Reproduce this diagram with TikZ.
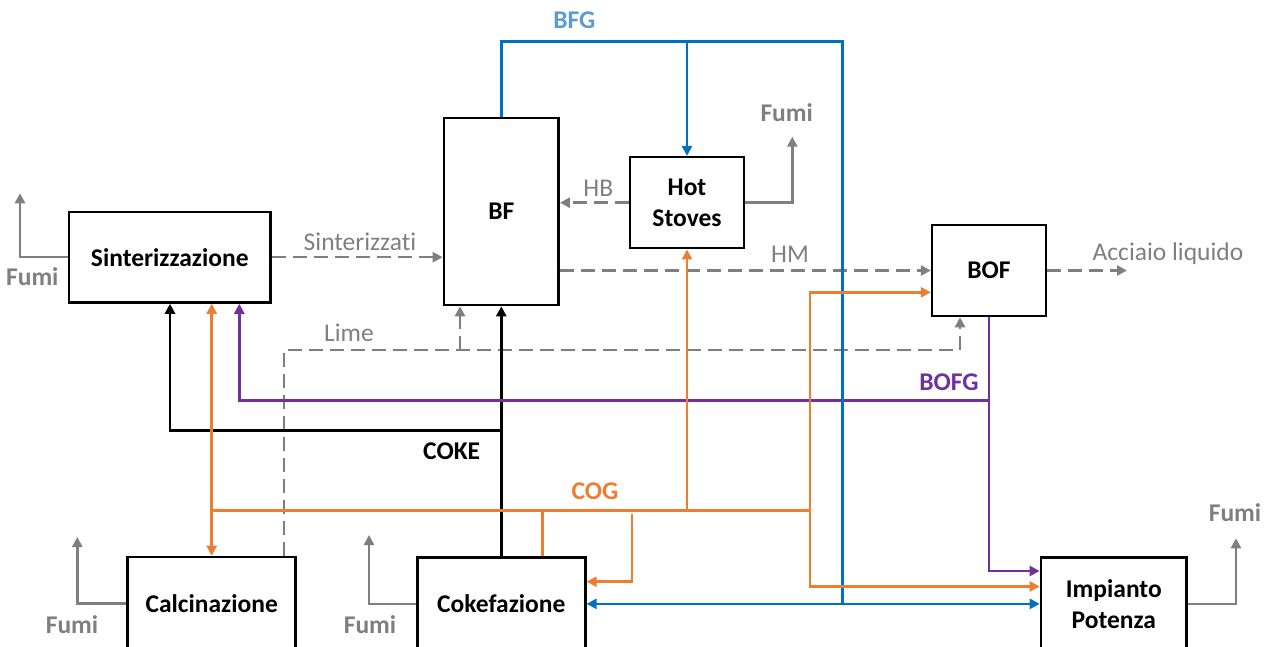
\documentclass[tikz,border=0pt]{standalone}
\usepackage{fontspec}
\setmainfont[Ligatures=NoCommon]{Carlito}
\usetikzlibrary{arrows.meta}
\definecolor{cgray}{HTML}{7F7F7F}
\definecolor{corange}{HTML}{ED7D31}
\definecolor{cblue}{HTML}{0070C0}
\definecolor{clblue}{HTML}{5B9BD5}
\definecolor{cpurple}{HTML}{7030A0}
\begin{document}
\begin{tikzpicture}[x=1pt,y=-1pt,
  box/.style={draw=black,line width=2.6pt,inner sep=0pt,align=center,
    font=\fontsize{25.5}{31}\selectfont\bfseries},
  lbl/.style={inner sep=0pt,text height=16.4pt,text depth=0pt,
    font=\fontsize{25.5}{31}\selectfont},
  blbl/.style={lbl,font=\fontsize{25.5}{31}\selectfont\bfseries},
  flow/.style={line width=2.5pt},
  arr/.style={-{Triangle[length=10pt,width=10pt]}},
  darr/.style={{Triangle[length=10pt,width=10pt]}-{Triangle[length=10pt,width=10pt]}},
  gline/.style={flow,draw=cgray},
  dline/.style={gline,dash pattern=on 14pt off 7pt},
  oline/.style={flow,draw=corange},
  bline/.style={flow,draw=cblue},
  pline/.style={flow,draw=cpurple},
  kline/.style={flow,draw=black}]
\useasboundingbox (0,0) rectangle (1272,647);
\clip (0,0) rectangle (1272,647);

% boxes
\node[box,minimum width=201.7pt,minimum height=90.5pt] (sint) at (169.8,257.2) {Sinterizzazione};
\node[box,minimum width=114.7pt,minimum height=187pt] (bf) at (501.3,211.5) {BF};
\node[box,minimum width=114pt,minimum height=91pt] (hs) at (687,202.7) {Hot\\Stoves};
\node[box,minimum width=113.7pt,minimum height=91pt] (bof) at (989,270.5) {BOF};
\node[box,minimum width=168pt,minimum height=93pt] (calc) at (211.7,603.5) {Calcinazione};
\node[box,minimum width=168pt,minimum height=92.3pt] (coke) at (501.3,603.85) {Cokefazione};
\node[box,minimum width=145.7pt,minimum height=92.3pt] (imp) at (1113.8,603.85) {Impianto\\Potenza};

% coordinates
\coordinate (bfgTL) at (501.3,41.3);
\coordinate (bfgTR) at (842.3,41.3);
\coordinate (bfgBR) at (842.3,603.85);
\coordinate (cogL) at (211.7,510.5);
\coordinate (cogC) at (542.3,510.5);
\coordinate (cogH) at (687,510.5);
\coordinate (cogR) at (810,510.5);
\coordinate (loopT) at (632,513.5);
\coordinate (loopB) at (632,581.7);
\coordinate (bofO) at (810,292.3);
\coordinate (impO) at (810,586.5);
\coordinate (pj) at (989,400.5);
\coordinate (pb) at (989,571);
\coordinate (pl) at (239.3,400.5);
\coordinate (kj) at (501.3,430.7);
\coordinate (kl) at (170,430.7);
\coordinate (lc) at (284,350);
\coordinate (lb) at (460,350);
\coordinate (lr) at (960,350);
\coordinate (acc) at (1127,270.5);
\coordinate (f1) at (20,193.3);
\coordinate (f2) at (792.3,136.7);
\coordinate (f3) at (77.3,537);
\coordinate (f4) at (369,535);
\coordinate (f5) at (1236,538.3);

% gray dashed material flows
\draw[dline,arr] (sint.east) -- (bf.west |- sint.east);
\draw[dline,arr] (hs.west) -- (bf.east |- hs.west);
\draw[dline,arr] (bf.east |- bof.west) -- (bof.west);
\draw[dline,arr] (bof.east) -- (acc);
\draw[dline,arr] (calc.north -| lc) -- (lc) -- (lr) -- (bof.south -| lr);
\draw[dline,arr] (lb) -- (bf.south -| lb);

% fumi
\draw[gline,arr] (sint.west) -- (sint.west -| f1) -- (f1);
\draw[gline,arr] (hs.east) -- (hs.east -| f2) -- (f2);
\draw[gline,arr] (calc.west) -- (calc.west -| f3) -- (f3);
\draw[gline,arr] (coke.west) -- (coke.west -| f4) -- (f4);
\draw[gline,arr] (imp.east) -- (imp.east -| f5) -- (f5);

% coke
\draw[kline,arr] (coke.north) -- (bf.south);
\draw[kline,arr] (kj) -- (kl) -- (sint.south -| kl);

% BOFG
\draw[pline,arr] (bof.south) -- (pj) -- (pb) -- (imp.west |- pb);
\draw[pline,arr] (pj) -- (pl) -- (sint.south -| pl);

% BFG
\draw[bline] (bf.north) -- (bfgTL) -- (bfgTR) -- (bfgBR);
\draw[bline,arr] (bfgTL -| hs.north) -- (hs.north);
\draw[bline,darr] (coke.east) -- (imp.west);

% COG
\draw[oline] (cogL) -- (cogR);
\draw[oline,arr] (cogL) -- (sint.south -| cogL);
\draw[oline,arr] (cogL) -- (calc.north);
\draw[oline] (coke.north -| cogC) -- (cogC);
\draw[oline,arr] (cogH) -- (hs.south);
\draw[oline,arr] (loopT) -- (loopB) -- (coke.east |- loopB);
\draw[oline,arr] (cogR) -- (bofO) -- (bof.west |- bofO);
\draw[oline,arr] (cogR) -- (impO) -- (imp.west |- impO);

% labels
\node[blbl,text=clblue] (lbfg) at (574.3,20.7) {BFG};
\node[blbl,text=cgray] (lf2) at (786.7,113.3) {Fumi};
\node[lbl,text=cgray] (lhb) at (598.3,188.3) {HB};
\node[lbl,text=cgray] (lsin) at (360,242.7) {Sinterizzati};
\node[lbl,text=cgray] (lhm) at (790,254) {HM};
\node[lbl,text=cgray] (lacc) at (1168,252.7) {Acciaio liquido};
\node[blbl,text=cgray] (lf1) at (32.3,277.7) {Fumi};
\node[lbl,text=cgray] (llime) at (349,333) {Lime};
\node[blbl,text=cpurple] (lbofg) at (949,382.7) {BOFG};
\node[blbl,text=black] (lcoke) at (451.7,451.7) {COKE};
\node[blbl,text=corange] (lcog) at (595,491.7) {COG};
\node[blbl,text=cgray] (lf5) at (1235,513.3) {Fumi};
\node[blbl,text=cgray] (lf3) at (72,625) {Fumi};
\node[blbl,text=cgray] (lf4) at (370,625) {Fumi};
\end{tikzpicture}
\end{document}
